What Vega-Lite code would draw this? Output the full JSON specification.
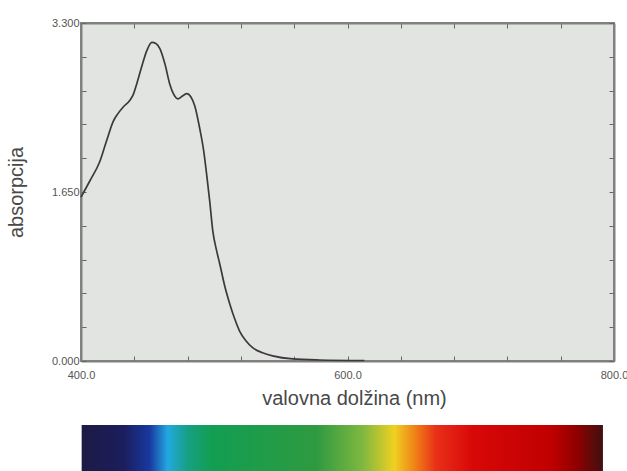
{
  "$schema": "https://vega.github.io/schema/vega-lite/v6.json",
  "background": "white",
  "padding": {"top": 16, "left": 5, "right": 0, "bottom": 0},
  "spacing": 16,
  "config": {
    "axis": {
      "grid": false,
      "domainColor": "#808080",
      "domainWidth": 2,
      "tickColor": "#666666",
      "labelColor": "#555555",
      "titleColor": "#484848",
      "labelFont": "Liberation Sans",
      "labelFontSize": 11,
      "titleFont": "Liberation Sans",
      "titleFontWeight": "normal",
      "titleFontSize": 20
    }
  },
  "vconcat": [
    {
      "width": 533,
      "height": 338,
      "view": {"fill": "#e1e4e0", "stroke": "#808080", "strokeWidth": 2},
      "data": {
        "values": [
          {"nm": 400, "abs": 1.6},
          {"nm": 406.7, "abs": 1.76},
          {"nm": 414.2, "abs": 1.95},
          {"nm": 419.2, "abs": 2.15},
          {"nm": 424.2, "abs": 2.34},
          {"nm": 428, "abs": 2.42},
          {"nm": 431.7, "abs": 2.48},
          {"nm": 436.7, "abs": 2.545},
          {"nm": 439.2, "abs": 2.6},
          {"nm": 441.7, "abs": 2.7},
          {"nm": 445.7, "abs": 2.88},
          {"nm": 449.4, "abs": 3.03},
          {"nm": 453.2, "abs": 3.11},
          {"nm": 456.2, "abs": 3.1},
          {"nm": 459.2, "abs": 3.05},
          {"nm": 463, "abs": 2.9},
          {"nm": 466.7, "abs": 2.7},
          {"nm": 469.7, "abs": 2.6},
          {"nm": 472.7, "abs": 2.56},
          {"nm": 476.4, "abs": 2.59},
          {"nm": 479.4, "abs": 2.61},
          {"nm": 482.4, "abs": 2.58},
          {"nm": 485.4, "abs": 2.49},
          {"nm": 489.1, "abs": 2.27},
          {"nm": 492.1, "abs": 2.05},
          {"nm": 494.4, "abs": 1.81},
          {"nm": 496.6, "abs": 1.56},
          {"nm": 498.9, "abs": 1.27},
          {"nm": 501.9, "abs": 1.07},
          {"nm": 504.1, "abs": 0.95},
          {"nm": 507.9, "abs": 0.73},
          {"nm": 511.6, "abs": 0.56},
          {"nm": 515.4, "abs": 0.41},
          {"nm": 519.1, "abs": 0.29},
          {"nm": 523.6, "abs": 0.2},
          {"nm": 528.8, "abs": 0.13},
          {"nm": 536.3, "abs": 0.08},
          {"nm": 543.8, "abs": 0.05},
          {"nm": 558.8, "abs": 0.02},
          {"nm": 579, "abs": 0.01},
          {"nm": 612.7, "abs": 0.005}
        ]
      },
      "layer": [
        {
          "mark": {"type": "line", "color": "#3a3a3a", "strokeWidth": 1.7, "interpolate": "monotone"},
          "encoding": {
            "x": {
              "field": "nm", "type": "quantitative",
              "scale": {"domain": [400, 800], "nice": false, "zero": false},
              "axis": {
                "orient": "bottom",
                "title": "valovna dolžina (nm)",
                "titlePadding": 8,
                "titleX": 273,
                "titleAlign": "center",
                "values": [400, 440, 480, 520, 560, 600, 640, 680, 720, 760, 800],
                "labelExpr": "datum.value == 400 || datum.value == 600 || datum.value == 800 ? format(datum.value, '.1f') : ''",
                "tickSize": -5,
                "labelPadding": 13,
                "labelFlush": false,
                "labelOverlap": false
              }
            },
            "y": {
              "field": "abs", "type": "quantitative",
              "scale": {"domain": [0, 3.3], "nice": false},
              "axis": {
                "orient": "left",
                "title": "absorpcija",
                "titlePadding": 25,
                "values": [0, 0.33, 0.66, 0.99, 1.32, 1.65, 1.98, 2.31, 2.64, 2.97, 3.3],
                "labelExpr": "abs(datum.value) < 0.001 || abs(datum.value - 1.65) < 0.001 || abs(datum.value - 3.3) < 0.001 ? format(datum.value, '.3f') : ''",
                "tickSize": -5,
                "labelPadding": 7,
                "labelFlush": false,
                "labelOverlap": false
              }
            }
          }
        },
        {
          "mark": {"type": "line", "strokeOpacity": 0},
          "encoding": {
            "x": {
              "field": "nm", "type": "quantitative",
              "axis": {
                "orient": "top", "title": null, "labels": false,
                "values": [400, 440, 480, 520, 560, 600, 640, 680, 720, 760, 800],
                "tickSize": -5
              }
            },
            "y": {
              "field": "abs", "type": "quantitative",
              "axis": {
                "orient": "right", "title": null, "labels": false,
                "values": [0, 0.33, 0.66, 0.99, 1.32, 1.65, 1.98, 2.31, 2.64, 2.97, 3.3],
                "tickSize": -5
              }
            }
          }
        }
      ],
      "resolve": {"axis": {"x": "independent", "y": "independent"}}
    },
    {
      "width": 533,
      "height": 50,
      "view": {"stroke": null},
      "data": {"values": [{"start": 400.5, "end": 791.7}]},
      "mark": {
        "type": "rect",
        "fill": {
          "gradient": "linear", "x1": 0, "y1": 0, "x2": 1, "y2": 0,
          "stops": [
            {"offset": 0, "color": "#1c1a45"},
            {"offset": 0.08, "color": "#1b1e5c"},
            {"offset": 0.13, "color": "#1838a0"},
            {"offset": 0.165, "color": "#22a8e0"},
            {"offset": 0.205, "color": "#16a080"},
            {"offset": 0.25, "color": "#129e52"},
            {"offset": 0.45, "color": "#2e9a40"},
            {"offset": 0.54, "color": "#80b840"},
            {"offset": 0.6, "color": "#f0d020"},
            {"offset": 0.64, "color": "#f08018"},
            {"offset": 0.68, "color": "#e83018"},
            {"offset": 0.75, "color": "#d80808"},
            {"offset": 0.9, "color": "#c00000"},
            {"offset": 0.95, "color": "#900000"},
            {"offset": 1, "color": "#401010"}
          ]
        }
      },
      "encoding": {
        "x": {
          "field": "start", "type": "quantitative",
          "scale": {"domain": [400, 800], "nice": false, "zero": false},
          "axis": null
        },
        "x2": {"field": "end"}
      }
    }
  ]
}
